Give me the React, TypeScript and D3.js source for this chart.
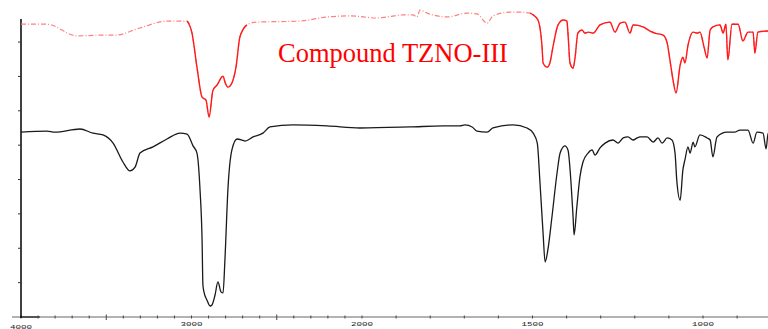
import * as d3 from "d3";

// IR spectra, wavenumber (cm-1) vs transmittance (%T)
const redWavenumber = [
  4000, 3848, 3672, 3537, 3449, 3302, 3144, 3026, 2997, 2968, 2938, 2915, 2897, 2874, 2850, 2815,
  2804, 2786, 2763, 2739, 2716, 2675, 2616, 2364, 2205, 2070, 1956, 1927, 1880, 1850, 1839, 1830,
  1809, 1792, 1751, 1692, 1663, 1633, 1616, 1566, 1537, 1507, 1498, 1484, 1472, 1469, 1457, 1449,
  1440, 1425, 1410, 1399, 1396, 1390, 1381, 1375, 1367, 1355, 1346, 1337, 1322, 1302, 1273, 1258,
  1243, 1229, 1214, 1205, 1176, 1155, 1141, 1117, 1105, 1097, 1088, 1079, 1067, 1059, 1053, 1044,
  1029, 1017, 1009, 997, 988, 979, 971, 950, 941, 933, 927, 915, 897, 883, 868, 853, 848, 839, 812, 800,
];
const redTransmittance = [
  85.2, 85.2, 81.8, 82.0, 82.0, 84.1, 86.1, 86.1, 82.6, 72.7, 64.0, 63.1, 58.2, 66.0, 67.5, 70.1,
  68.4, 66.9, 68.1, 72.7, 81.5, 85.0, 85.8, 86.1, 87.3, 87.6, 87.0, 87.3, 87.9, 87.9, 87.3, 89.3,
  88.4, 87.9, 87.3, 88.4, 88.2, 85.5, 87.6, 88.7, 88.7, 88.4, 87.9, 86.4, 78.6, 73.9, 72.7, 73.9,
  78.6, 85.0, 86.4, 86.1, 82.6, 73.9, 72.4, 75.6, 82.6, 83.5, 82.6, 82.9, 82.6, 85.0, 85.8, 82.9,
  85.5, 85.8, 82.6, 85.0, 84.4, 83.2, 82.6, 82.0, 79.7, 74.8, 69.0, 65.2, 73.3, 75.6, 73.9, 79.1,
  82.9, 82.6, 82.9, 78.6, 75.4, 83.5, 84.4, 85.0, 82.6, 85.2, 74.8, 85.2, 85.2, 80.3, 82.9, 82.9, 76.8, 82.9, 83.2, 83.2,
];

const blackWavenumber = [
  4000, 3848, 3801, 3654, 3578, 3519, 3460, 3402, 3361, 3331, 3302, 3226, 3144, 3067, 3026, 2991,
  2968, 2950, 2938, 2933, 2927, 2909, 2891, 2880, 2862, 2845, 2827, 2815, 2804, 2786, 2763, 2733,
  2704, 2686, 2639, 2581, 2540, 2405, 2205, 2012, 1859, 1762, 1713, 1698, 1677, 1663, 1633, 1616,
  1557, 1516, 1498, 1486, 1478, 1469, 1463, 1455, 1443, 1428, 1419, 1405, 1396, 1387, 1381, 1378,
  1370, 1361, 1352, 1337, 1325, 1317, 1302, 1287, 1264, 1249, 1234, 1220, 1205, 1193, 1185, 1164,
  1146, 1132, 1120, 1105, 1091, 1082, 1077, 1067, 1059, 1053, 1044, 1038, 1029, 1024, 1009, 988,
  979, 971, 959, 930, 906, 892, 868, 853, 842, 824, 815, 809, 800,
];
const blackTransmittance = [
  53.8, 54.1, 53.8, 54.7, 53.5, 53.0, 50.6, 45.1, 42.5, 43.6, 47.7, 49.5, 51.8, 53.5, 53.2, 49.8,
  47.7, 37.0, 22.4, 9.3, 7.3, 4.9, 3.2, 3.5, 6.4, 10.2, 7.3, 7.0, 16.6, 37.5, 48.6, 51.8,
  51.5, 51.2, 52.4, 53.5, 55.3, 55.9, 55.6, 55.0, 55.3, 55.6, 55.6, 55.9, 55.3, 54.1, 53.8, 55.0,
  55.9, 55.0, 53.5, 50.6, 39.0, 24.4, 16.0, 19.5, 29.1, 41.9, 47.7, 49.8, 48.6, 39.0, 29.1, 23.9,
  32.0, 40.7, 45.1, 47.7, 48.6, 47.1, 49.2, 50.6, 51.5, 50.6, 52.1, 52.4, 51.5, 52.1, 52.4, 52.4,
  50.9, 52.1, 50.6, 52.1, 51.5, 47.7, 39.9, 34.0, 42.8, 45.7, 49.5, 47.7, 50.9, 49.5, 53.0, 52.1,
  51.5, 46.6, 52.4, 53.8, 53.8, 54.4, 54.4, 50.6, 53.8, 53.5, 48.9, 53.5, 53.5,
];

// the scanned red trace is faint/broken where it is flat
const redFaintRanges = [
  [4000, 3026],
  [2675, 1507],
];

const xLabels = [4000, 3000, 2000, 1500, 1000];
const yTicks = [10, 20, 30, 40, 50, 60, 70, 80];
const title = "Compound TZNO-III";

const width = 768;
const height = 329;

export default function App() {
  // the instrument halves the scale below 2000 cm-1
  const x = d3.scaleLinear().domain([4000, 2000, 800]).range([21, 362, 771.2]);
  const y = d3.scaleLinear().domain([0, 87]).range([317, 18]);

  const line = d3
    .line<[number, number]>()
    .x((d) => x(d[0]))
    .y((d) => y(d[1]))
    .curve(d3.curveMonotoneX);

  const red = redWavenumber.map((w, i) => [w, redTransmittance[i]] as [number, number]);
  const black = blackWavenumber.map((w, i) => [w, blackTransmittance[i]] as [number, number]);

  const inFaint = (w: number) => redFaintRanges.some(([a, b]) => w <= a && w >= b);
  const redSolid = red.map((d) => (inFaint(d[0]) ? null : d));
  const solidLine = d3
    .line<[number, number] | null>()
    .defined((d, i) => {
      // keep the segment joining faint and solid parts
      if (d) return true;
      return false;
    })
    .x((d) => x(d![0]))
    .y((d) => y(d![1]))
    .curve(d3.curveMonotoneX);
  // extend solid runs by one point on each side so they touch the faint parts
  const redSolidExt = red.map((d, i) =>
    redSolid[i] || redSolid[i - 1] || redSolid[i + 1] ? d : null
  );

  const minorTicks = d3.range(4000, 799, -100);

  return (
    <svg
      width={width}
      height={height}
      style={{ position: "absolute", left: 0, top: 0, background: "#fff" }}
    >
      {/* x axis */}
      <line x1={12} x2={width} y1={y(0)} y2={y(0)} stroke="#666" strokeWidth={1} />
      <line x1={x(4000)} x2={x(3890)} y1={y(0)} y2={y(0)} stroke="#555" strokeWidth={2} />
      {minorTicks.map((t) => {
        const long = t === 3500 || t === 2500;
        return (
          <line
            key={t}
            x1={x(t)}
            x2={x(t)}
            y1={y(0) - (long ? 2.5 : 1.5)}
            y2={y(0) + (long ? 3 : 1.5)}
            stroke="#444"
            strokeWidth={1}
          />
        );
      })}
      {xLabels.map((t) => (
        <text
          key={t}
          x={x(t) - 11}
          y={t === 4000 ? 328.5 : 326}
          fontFamily="Liberation Mono, monospace"
          fontSize={5.5}
          textLength={22}
          lengthAdjust="spacingAndGlyphs"
          fill="#222"
        >
          {t}
        </text>
      ))}

      {/* y axis */}
      <line x1={x(4000)} x2={x(4000)} y1={19} y2={y(0) + 1} stroke="#000" strokeWidth={1.5} />
      {yTicks.map((t) => (
        <line key={t} x1={x(4000) - 3} x2={x(4000)} y1={y(t)} y2={y(t)} stroke="#333" strokeWidth={1} />
      ))}

      <path
        d={line(red) ?? ""}
        fill="none"
        stroke="#ff8080"
        strokeWidth={1.2}
        strokeDasharray="5 2 1 2"
      />
      <path
        d={solidLine(redSolidExt) ?? ""}
        fill="none"
        stroke="#ff1a1a"
        strokeWidth={1.4}
        strokeLinejoin="round"
      />
      <path d={line(black) ?? ""} fill="none" stroke="#1a1a1a" strokeWidth={1.3} strokeLinejoin="round" />

      <text
        x={278}
        y={62}
        fontFamily="Liberation Serif, Times New Roman, serif"
        fontSize={26.5}
        fill="#ff0000"
      >
        {title}
      </text>
    </svg>
  );
}
